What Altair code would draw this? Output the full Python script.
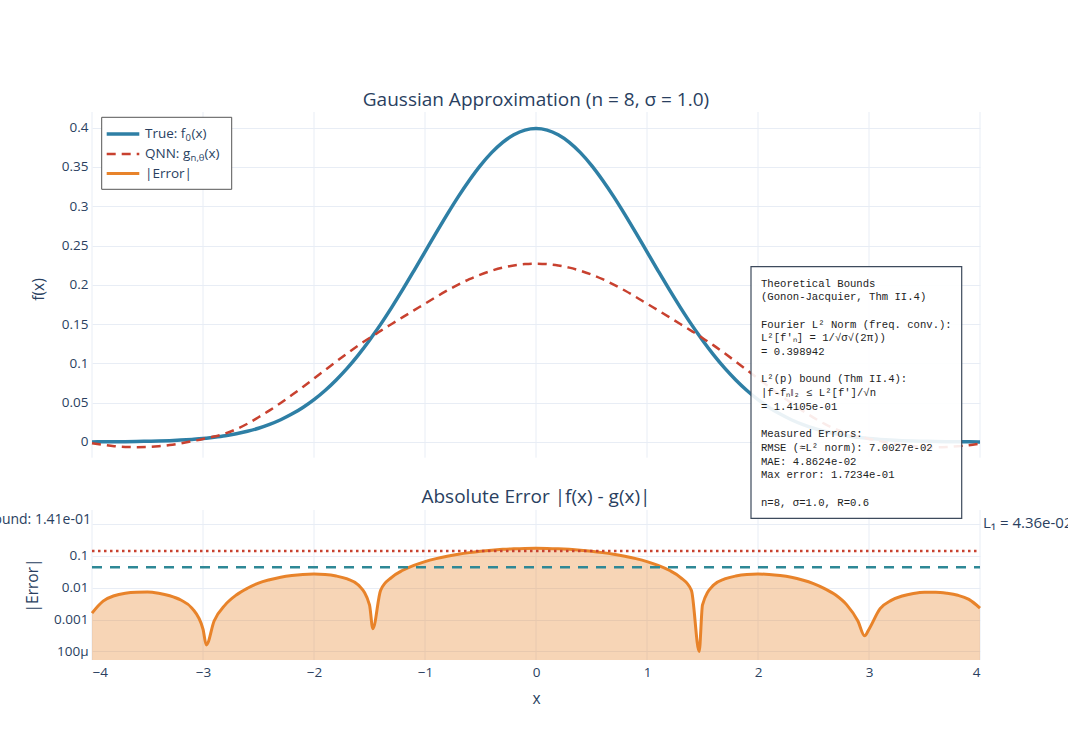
import altair as alt
import pandas as pd

# ---------------- data ----------------
x_vals = [-4.0, -3.9, -3.8, -3.7, -3.6, -3.5, -3.4, -3.3, -3.2, -3.1, -3.0, -2.97, -2.9, -2.8, -2.7,
          -2.6, -2.5, -2.4, -2.3, -2.2, -2.1, -2.0, -1.9, -1.8, -1.7, -1.6, -1.5, -1.47, -1.4, -1.3,
          -1.2, -1.1, -1.0, -0.9, -0.8, -0.7, -0.6, -0.5, -0.4, -0.3, -0.2, -0.1, 0.0,
          0.1, 0.2, 0.3, 0.4, 0.5, 0.6, 0.7, 0.8, 0.9, 1.0, 1.1, 1.2, 1.3, 1.4, 1.47, 1.5,
          1.6, 1.7, 1.8, 1.9, 2.0, 2.1, 2.2, 2.3, 2.4, 2.5, 2.6, 2.7, 2.8, 2.9, 2.96, 3.0,
          3.1, 3.2, 3.3, 3.4, 3.5, 3.6, 3.7, 3.8, 3.9, 4.0]

true_vals = [0.0001, 0.0002, 0.0003, 0.0004, 0.0006, 0.0009, 0.0012, 0.0017, 0.0024, 0.0033, 0.0044, 0.00485, 0.0060, 0.0079, 0.0104,
             0.0136, 0.0175, 0.0224, 0.0283, 0.0355, 0.0440, 0.0540, 0.0656, 0.0790, 0.0940, 0.1109, 0.1295, 0.13542, 0.1497, 0.1714,
             0.1942, 0.2179, 0.2420, 0.2661, 0.2897, 0.3123, 0.3332, 0.3521, 0.3683, 0.3814, 0.3910, 0.3970, 0.3989,
             0.3970, 0.3910, 0.3814, 0.3683, 0.3521, 0.3332, 0.3123, 0.2897, 0.2661, 0.2420, 0.2179, 0.1942, 0.1714, 0.1497, 0.13542, 0.1295,
             0.1109, 0.0940, 0.0790, 0.0656, 0.0540, 0.0440, 0.0355, 0.0283, 0.0224, 0.0175, 0.0136, 0.0104, 0.0079, 0.0060, 0.00499, 0.0044,
             0.0033, 0.0024, 0.0017, 0.0012, 0.0009, 0.0006, 0.0004, 0.0003, 0.0002, 0.0001]

qnn_vals = [-0.0015, -0.0036, -0.0053, -0.0063, -0.0066, -0.0064, -0.0055, -0.0039, -0.0017, 0.0010, 0.0039, 0.00501, 0.0069, 0.0108, 0.0163,
            0.0232, 0.0315, 0.0402, 0.0497, 0.0597, 0.0701, 0.0808, 0.0916, 0.1023, 0.1128, 0.1230, 0.1324, 0.13490, 0.1414, 0.1502,
            0.1589, 0.1675, 0.1760, 0.1846, 0.1928, 0.2004, 0.2072, 0.2131, 0.2180, 0.2219, 0.2247, 0.2264, 0.2270,
            0.2264, 0.2247, 0.2219, 0.2180, 0.2131, 0.2072, 0.2004, 0.1928, 0.1846, 0.1760, 0.1675, 0.1589, 0.1502, 0.1414, 0.13532, 0.1324,
            0.1230, 0.1128, 0.1023, 0.0916, 0.0808, 0.0701, 0.0596, 0.0495, 0.0399, 0.0310, 0.0230, 0.0163, 0.0108, 0.0069, 0.0053, 0.0039,
            0.0011, -0.0016, -0.0038, -0.0054, -0.0063, -0.0066, -0.0063, -0.0055, -0.0041, -0.0022]

x_ticks = [-4, -3, -2, -1, 0, 1, 2, 3, 4]
top_ticks = [0, 0.05, 0.1, 0.15, 0.2, 0.25, 0.3, 0.35, 0.4]
err_ticks = [0.0001, 0.001, 0.01, 0.1, 1]
err_floor = 5.4e-5
bound_vals = [0.14105]
l1_vals = [0.0436]

legend_names = ["True: f", "QNN: g", "|Error|"]
info_lines = [
    "Theoretical Bounds",
    "(Gonon-Jacquier, Thm II.4)",
    "",
    "Fourier L\u00b2 Norm (freq. conv.):",
    "L\u00b2[f'\u2099] = 1/\u221a\u03c3\u221a(2\u03c0))",
    "= 0.398942",
    "",
    "L\u00b2(p) bound (Thm II.4):",
    "|f-f\u2099\u2016\u2082 \u2264 L\u00b2[f']/\u221an",
    "= 1.4105e-01",
    "",
    "Measured Errors:",
    "RMSE (\u2248L\u00b2 norm): 7.0027e-02",
    "MAE: 4.8624e-02",
    "Max error: 1.7234e-01",
    "",
    "n=8, \u03c3=1.0, R=0.6",
]

# ---------------- styling ----------------
FONT = "Open Sans"
TXT = "#2a3f5f"
GRID = "#E8EDF5"
BLUE = "#2E7FA5"
RED = "#C8412F"
ORANGE = "#E8832A"
TEAL = "#2E8896"

W, H = 888, 548
TOP_H = 345.7
BOT0, BOT1 = 398, 548

df = pd.DataFrame({"x": x_vals, "true": true_vals, "qnn": qnn_vals})
df["err"] = (df["true"] - df["qnn"]).abs()
df["floor"] = err_floor
grid_df = pd.DataFrame({"x": x_ticks})
one_df = pd.DataFrame({"k": [0]})
bound_df = pd.DataFrame({"v": bound_vals})
l1_df = pd.DataFrame({"v": l1_vals})

xscale = alt.Scale(domain=[-4, 4], nice=False, zero=False)
x_axis = alt.Axis(values=x_ticks, grid=False, ticks=False, domain=False,
                  labelFont=FONT, labelFontSize=13.5, labelColor=TXT, labelPadding=5,
                  title="x", titleFont=FONT, titleFontSize=15.5, titleFontWeight="normal",
                  titleColor=TXT, titleX=444, titleY=38, titleBaseline="middle")

def X(field="x"):
    return alt.X(f"{field}:Q", scale=xscale, axis=x_axis)

top_scale = alt.Scale(domain=[-0.02, 0.42], range=[TOP_H, 0], nice=False, zero=False)
top_axis = alt.Axis(values=top_ticks, orient="left", grid=True, gridColor=GRID, gridWidth=1,
                    ticks=False, domain=False, format="~g",
                    labelFont=FONT, labelFontSize=13.5, labelColor=TXT, labelPadding=4,
                    title="f(x)", titleFont=FONT, titleFontSize=15.5, titleFontWeight="normal",
                    titleColor=TXT, titleX=-54, titleY=177, titleAngle=-90,
                    titleAlign="center", titleBaseline="middle")

bot_scale = alt.Scale(type="log", domain=[err_floor, 2.74], range=[BOT1, BOT0], nice=False)
bot_axis = alt.Axis(values=err_ticks, orient="left", grid=True, gridColor=GRID, gridWidth=1,
                    ticks=False, domain=False,
                    labelExpr="datum.value < 0.0005 ? '100\u00b5' : datum.value < 0.005 ? '0.001' : datum.value < 0.05 ? '0.01' : datum.value < 0.5 ? '0.1' : ''",
                    labelFont=FONT, labelFontSize=13.5, labelColor=TXT, labelPadding=4,
                    title="|Error|", titleFont=FONT, titleFontSize=15.5, titleFontWeight="normal",
                    titleColor=TXT, titleX=-60, titleY=473, titleAngle=-90,
                    titleAlign="center", titleBaseline="middle")

def txt(s, xpos, ypos, size, align="center", base="middle", color=TXT, font=FONT):
    return alt.Chart(one_df).mark_text(font=font, fontSize=size, fontWeight="normal", color=color,
                                       align=align, baseline=base).encode(
        x=alt.value(xpos), y=alt.value(ypos), text=alt.value(s))

# ---------------- top panel ----------------
top_grid = alt.Chart(grid_df).mark_rule(color=GRID, strokeWidth=1).encode(
    x=X(), y=alt.value(0), y2=alt.value(TOP_H))
true_line = alt.Chart(df).mark_line(color=BLUE, strokeWidth=3.5, interpolate="monotone").encode(
    x=X(), y=alt.Y("true:Q", scale=top_scale, axis=top_axis))
qnn_line = alt.Chart(df).mark_line(color=RED, strokeWidth=2.5, strokeDash=[9, 6],
                                   interpolate="monotone").encode(
    x=X(), y=alt.Y("qnn:Q", scale=top_scale, axis=top_axis))
top_title = txt("Gaussian Approximation (n = 8, \u03c3 = 1.0)", 444, -12, 19)
top = alt.layer(top_grid, true_line, qnn_line, top_title)

# ---------------- bottom panel ----------------
bot_grid = alt.Chart(grid_df).mark_rule(color=GRID, strokeWidth=1).encode(
    x=X(), y=alt.value(BOT0), y2=alt.value(BOT1))
err_area = alt.Chart(df).mark_area(color=ORANGE, opacity=0.34, interpolate="monotone").encode(
    x=X(), y=alt.Y("err:Q", scale=bot_scale, axis=bot_axis), y2=alt.Y2("floor:Q"))
err_line = alt.Chart(df).mark_line(color=ORANGE, strokeWidth=3, interpolate="monotone").encode(
    x=X(), y=alt.Y("err:Q", scale=bot_scale, axis=bot_axis))
bound_rule = alt.Chart(bound_df).mark_rule(color=RED, strokeWidth=2.5, strokeDash=[2.5, 3.5]).encode(
    y=alt.Y("v:Q", scale=bot_scale, axis=bot_axis), x=alt.value(0), x2=alt.value(W))
l1_rule = alt.Chart(l1_df).mark_rule(color=TEAL, strokeWidth=2.5, strokeDash=[10, 8]).encode(
    y=alt.Y("v:Q", scale=bot_scale, axis=bot_axis), x=alt.value(0), x2=alt.value(W))
bound_text = txt("L\u00b2 bound: 1.41e-01", -1, 408, 14, align="right")
l1_text = txt("L\u2081 = 4.36e-02", 891, 411, 15, align="left")
bot_title = txt("Absolute Error |f(x) - g(x)|", 444, 385, 19)
bottom = alt.layer(bot_grid, err_area, err_line, bound_rule, l1_rule, bound_text, l1_text, bot_title)

# ---------------- legend (manual) ----------------
LX0, LX1, LY0, LY1 = 9.7, 139.7, 5.3, 77.3
rows = [22, 42, 61.5]
leg_box = alt.Chart(one_df).mark_rect(fill="white", stroke="#555", strokeWidth=1).encode(
    x=alt.value(LX0), x2=alt.value(LX1), y=alt.value(LY0), y2=alt.value(LY1))
sw1 = alt.Chart(one_df).mark_rule(color=BLUE, strokeWidth=3.5).encode(
    x=alt.value(14.7), x2=alt.value(47.3), y=alt.value(rows[0]))
sw2 = alt.Chart(one_df).mark_rule(color=RED, strokeWidth=2.5, strokeDash=[9, 6]).encode(
    x=alt.value(14.7), x2=alt.value(47.3), y=alt.value(rows[1]))
sw3 = alt.Chart(one_df).mark_rule(color=ORANGE, strokeWidth=3).encode(
    x=alt.value(14.7), x2=alt.value(47.3), y=alt.value(rows[2]))
LT = 53
FS = 13.5
w_true = 3.008 * FS
w_qnn = 3.375 * FS
leg_items = [
    txt(legend_names[0], LT, rows[0], FS, align="left"),
    txt("0", LT + w_true, rows[0] + 4, 9.5, align="left"),
    txt("(x)", LT + w_true + 5.8, rows[0], FS, align="left"),
    txt(legend_names[1], LT, rows[1], FS, align="left"),
    txt("n,\u03b8", LT + w_qnn, rows[1] + 4, 9.5, align="left"),
    txt("(x)", LT + w_qnn + 14.0, rows[1], FS, align="left"),
    txt(legend_names[2], LT, rows[2], FS, align="left"),
]
legend = alt.layer(leg_box, sw1, sw2, sw3, *leg_items)

# ---------------- info box ----------------
info_box = alt.Chart(one_df).mark_rect(fill="white", fillOpacity=0.9, stroke="#3d4a5c",
                                       strokeWidth=1.2).encode(
    x=alt.value(659), x2=alt.value(869.7), y=alt.value(154.7), y2=alt.value(406.3))
LINE_H = 13.7
info_texts = [
    txt(line, 669, 171.5 + i * LINE_H, 10.6, align="left", color="#222", font="Liberation Mono")
    for i, line in enumerate(info_lines) if line
]
info = alt.layer(info_box, *info_texts)

chart = alt.layer(top, bottom, legend, info).resolve_scale(y="independent").properties(
    width=W, height=H,
    autosize=alt.AutoSizeParams(type="none"),
    padding={"left": 92, "top": 112, "right": 88, "bottom": 81},
    background="white",
).configure_view(stroke=None)

chart.save("out.html", embed_options={"renderer": "svg", "actions": False})
